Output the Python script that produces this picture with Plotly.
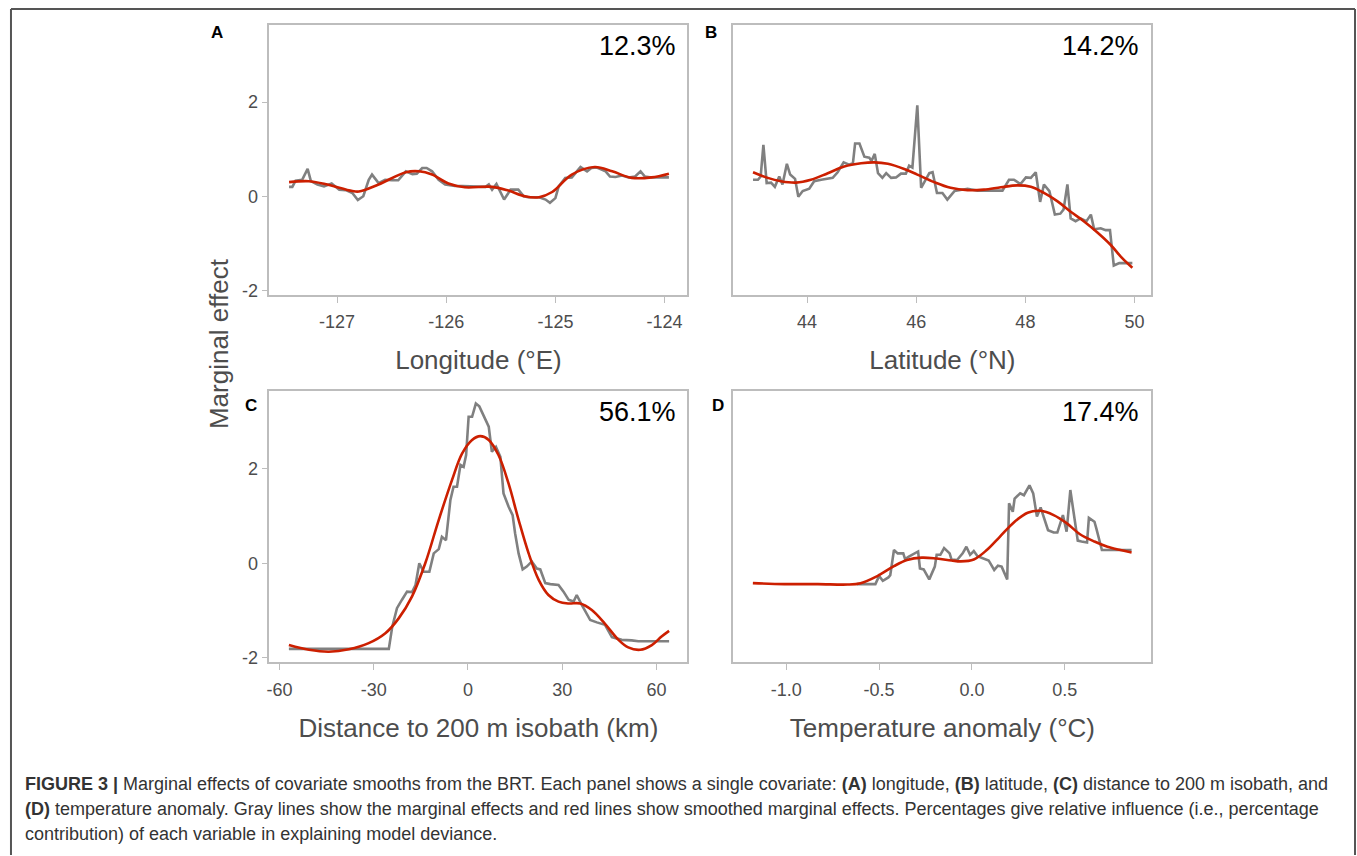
import plotly.graph_objects as go

W, H = 1357, 856

# ---------------- data ----------------
# Panel A: longitude
lon_gray_x = [-127.44, -127.41, -127.38, -127.32, -127.27, -127.24, -127.18, -127.12, -127.05, -126.98,
              -126.92, -126.86, -126.81, -126.76, -126.71, -126.68, -126.62, -126.56, -126.50, -126.44,
              -126.37, -126.31, -126.27, -126.22, -126.18, -126.13, -126.07, -126.01, -125.92, -125.83,
              -125.73, -125.64, -125.61, -125.58, -125.54, -125.47, -125.41, -125.34, -125.29, -125.25,
              -125.15, -125.09, -125.05, -125.00, -124.97, -124.91, -124.85, -124.77, -124.71, -124.67,
              -124.62, -124.54, -124.50, -124.45, -124.39, -124.33, -124.27, -124.22, -124.18, -124.12,
              -124.06, -123.96]
lon_gray_y = [0.20, 0.20, 0.33, 0.35, 0.58, 0.32, 0.25, 0.21, 0.27, 0.14,
              0.13, 0.07, -0.08, 0.00, 0.35, 0.46, 0.28, 0.35, 0.34, 0.34,
              0.53, 0.47, 0.48, 0.60, 0.60, 0.53, 0.35, 0.25, 0.22, 0.21,
              0.20, 0.20, 0.25, 0.14, 0.26, -0.07, 0.14, 0.14, 0.00, -0.02,
              -0.02, -0.07, -0.14, -0.04, 0.21, 0.39, 0.40, 0.62, 0.53, 0.60,
              0.61, 0.53, 0.42, 0.41, 0.44, 0.40, 0.42, 0.53, 0.42, 0.40,
              0.40, 0.40]
lon_red_x = [-127.44, -127.26, -127.11, -126.86, -126.80, -126.62, -126.37, -126.25, -126.13, -125.98,
             -125.83, -125.58, -125.43, -125.28, -125.15, -125.03, -124.85, -124.64, -124.48, -124.30,
             -124.12, -123.96]
lon_red_y = [0.30, 0.32, 0.26, 0.11, 0.10, 0.25, 0.51, 0.53, 0.46, 0.27,
             0.19, 0.20, 0.12, 0.00, -0.02, 0.09, 0.46, 0.62, 0.53, 0.39,
             0.40, 0.48]

# Panel B: latitude
lat_gray_x = [43.01, 43.10, 43.15, 43.20, 43.26, 43.34, 43.41, 43.49, 43.55, 43.63,
              43.69, 43.78, 43.84, 43.92, 44.04, 44.13, 44.26, 44.47, 44.56, 44.67,
              44.77, 44.84, 44.88, 44.96, 45.05, 45.14, 45.18, 45.24, 45.30, 45.38,
              45.45, 45.54, 45.63, 45.72, 45.81, 45.87, 45.93, 46.02, 46.09, 46.16,
              46.24, 46.30, 46.38, 46.48, 46.57, 46.70, 46.82, 46.94, 47.12, 47.37,
              47.58, 47.70, 47.79, 47.91, 48.01, 48.10, 48.19, 48.27, 48.34, 48.44,
              48.54, 48.64, 48.70, 48.77, 48.83, 48.92, 49.01, 49.12, 49.20, 49.26,
              49.38, 49.47, 49.55, 49.62, 49.72, 49.84, 49.96]
lat_gray_y = [0.35, 0.35, 0.42, 1.09, 0.28, 0.29, 0.20, 0.42, 0.25, 0.69,
              0.46, 0.37, -0.01, 0.11, 0.16, 0.32, 0.35, 0.39, 0.51, 0.72,
              0.67, 0.70, 1.12, 1.12, 0.84, 0.82, 0.75, 0.90, 0.49, 0.39,
              0.49, 0.39, 0.40, 0.48, 0.48, 0.65, 0.61, 1.93, 0.18, 0.32,
              0.49, 0.51, 0.07, 0.07, -0.07, 0.11, 0.14, 0.16, 0.12, 0.12,
              0.12, 0.35, 0.35, 0.26, 0.40, 0.39, 0.51, -0.12, 0.25, 0.11,
              -0.39, -0.37, -0.28, 0.25, -0.47, -0.53, -0.47, -0.53, -0.39, -0.70,
              -0.68, -0.72, -0.72, -1.47, -1.42, -1.42, -1.42]
lat_red_x = [43.01, 43.28, 43.52, 43.80, 44.07, 44.38, 44.68, 44.99, 45.23, 45.48,
             45.78, 46.02, 46.33, 46.63, 46.94, 47.24, 47.55, 47.85, 48.10, 48.34,
             48.59, 48.83, 49.07, 49.32, 49.56, 49.77, 49.96]
lat_red_y = [0.51, 0.39, 0.32, 0.29, 0.35, 0.49, 0.63, 0.70, 0.72, 0.69,
             0.58, 0.46, 0.30, 0.18, 0.13, 0.14, 0.19, 0.23, 0.20, 0.07,
             -0.11, -0.33, -0.53, -0.77, -1.03, -1.31, -1.52]

# Panel C: distance to 200 m isobath
dist_gray_x = [-57.0, -25.2, -24.1, -22.6, -21.0, -19.4, -17.8, -16.7, -15.5, -14.1,
               -12.3, -10.9, -9.3, -8.3, -7.0, -5.6, -4.6, -3.5, -2.4, -1.4,
               -0.6, 0.2, 1.3, 2.5, 3.6, 5.0, 6.6, 7.6, 8.9, 10.3,
               11.3, 12.9, 14.2, 15.0, 16.1, 17.4, 18.7, 20.3, 21.9, 23.0,
               24.6, 26.2, 27.7, 28.8, 30.4, 32.0, 33.6, 34.6, 36.2, 38.9,
               41.0, 43.6, 45.8, 48.9, 52.1, 54.2, 64.0]
dist_gray_y = [-1.81, -1.81, -1.34, -0.95, -0.77, -0.60, -0.61, -0.46, 0.00, -0.18,
               -0.18, 0.21, 0.30, 0.56, 0.49, 1.34, 1.62, 1.62, 2.08, 2.04,
               2.29, 3.10, 3.10, 3.38, 3.32, 3.13, 2.89, 2.36, 2.46, 2.25,
               1.48, 1.20, 1.02, 0.63, 0.21, -0.13, -0.07, 0.04, -0.11, -0.13,
               -0.42, -0.44, -0.46, -0.46, -0.60, -0.77, -0.81, -0.67, -0.88, -1.20,
               -1.25, -1.30, -1.56, -1.62, -1.63, -1.65, -1.65]
dist_red_x = [-57.0, -50.6, -44.3, -37.9, -31.6, -26.3, -22.0, -17.8, -13.6, -9.3,
              -5.1, -1.9, 1.3, 3.9, 6.6, 9.7, 12.9, 16.1, 19.3, 22.5,
              25.6, 28.8, 32.0, 35.7, 39.4, 43.6, 47.9, 51.0, 54.8, 58.5,
              61.6, 64.0]
dist_red_y = [-1.73, -1.83, -1.87, -1.82, -1.69, -1.48, -1.16, -0.70, 0.00, 0.92,
              1.76, 2.32, 2.61, 2.69, 2.61, 2.29, 1.69, 0.92, 0.21, -0.35,
              -0.67, -0.81, -0.85, -0.85, -0.99, -1.28, -1.62, -1.78, -1.83, -1.73,
              -1.55, -1.43]

# Panel D: temperature anomaly
temp_gray_x = [-0.62, -0.52, -0.50, -0.48, -0.45, -0.44, -0.42, -0.40, -0.37, -0.36,
               -0.34, -0.32, -0.29, -0.28, -0.26, -0.23, -0.20, -0.19, -0.17, -0.15,
               -0.12, -0.11, -0.08, -0.05, -0.03, -0.01, 0.01, 0.03, 0.06, 0.09,
               0.12, 0.14, 0.16, 0.19, 0.20, 0.22, 0.23, 0.26, 0.28, 0.31,
               0.33, 0.35, 0.37, 0.39, 0.41, 0.44, 0.46, 0.49, 0.51, 0.53,
               0.55, 0.57, 0.59, 0.62, 0.63, 0.66, 0.67, 0.70, 0.76, 0.86]
temp_gray_y = [-0.44, -0.44, -0.27, -0.37, -0.30, -0.25, 0.28, 0.21, 0.21, 0.09,
               0.14, 0.18, 0.25, -0.11, -0.13, -0.34, -0.07, 0.18, 0.18, 0.32,
               0.21, 0.08, 0.07, 0.21, 0.35, 0.18, 0.26, 0.15, 0.11, 0.06,
               -0.14, -0.05, -0.07, -0.34, 1.27, 1.09, 1.37, 1.48, 1.44, 1.65,
               1.48, 0.99, 1.18, 0.92, 0.70, 0.65, 0.65, 1.02, 0.67, 1.55,
               1.06, 0.48, 0.46, 0.44, 0.96, 0.88, 0.74, 0.28, 0.28, 0.28]
temp_red_x = [-1.18, -1.01, -0.83, -0.67, -0.60, -0.51, -0.42, -0.35, -0.27, -0.19,
              -0.11, -0.06, 0.01, 0.08, 0.15, 0.23, 0.30, 0.37, 0.44, 0.51,
              0.58, 0.66, 0.73, 0.80, 0.86]
temp_red_y = [-0.42, -0.44, -0.44, -0.45, -0.42, -0.27, -0.06, 0.07, 0.12, 0.10,
              0.06, 0.04, 0.08, 0.28, 0.56, 0.88, 1.07, 1.11, 1.02, 0.85,
              0.62, 0.46, 0.35, 0.28, 0.23]

y_ticks = [-2, 0, 2]
y_ticktext = ["-2", "0", "2"]
x_ticks = {
    "A": [-127, -126, -125, -124],
    "B": [44, 46, 48, 50],
    "C": [-60, -30, 0, 30, 60],
    "D": [-1.0, -0.5, 0.0, 0.5],
}
x_ticktext = {
    "A": ["-127", "-126", "-125", "-124"],
    "B": ["44", "46", "48", "50"],
    "C": ["-60", "-30", "0", "30", "60"],
    "D": ["-1.0", "-0.5", "0.0", "0.5"],
}
x_titles = ["Longitude (°E)", "Latitude (°N)", "Distance to 200 m isobath (km)", "Temperature anomaly (°C)"]
percentages = ["12.3%", "14.2%", "56.1%", "17.4%"]
panel_letters = ["A", "B", "C", "D"]
caption_lines = [
    "<b>FIGURE 3 |</b> Marginal effects of covariate smooths from the BRT. Each panel shows a single covariate: <b>(A)</b> longitude, <b>(B)</b> latitude, <b>(C)</b> distance to 200 m isobath, and",
    "<b>(D)</b> temperature anomaly. Gray lines show the marginal effects and red lines show smoothed marginal effects. Percentages give relative influence (i.e., percentage",
    "contribution) of each variable in explaining model deviance.",
]

# ---------------- layout helpers ----------------
def px_x(p):
    return p / W

def px_y(p):
    return 1 - p / H

panels = {
    "A": (267, 686, 25, 297, [-127.62, -123.79]),
    "B": (732, 1151, 25, 297, [42.65, 50.31]),
    "C": (267, 686, 394, 667, [-63.2, 69.85]),
    "D": (732, 1151, 394, 667, [-1.285, 0.967]),
}
yr = [-2.095, 3.64]

GRAY = "#808080"
RED = "#cc1f00"
FRAME = "#bdbdbd"
TXT = "#4d4d4d"
FONT = "Liberation Sans, Arial, sans-serif"

data_sets = [
    (lon_gray_x, lon_gray_y, lon_red_x, lon_red_y),
    (lat_gray_x, lat_gray_y, lat_red_x, lat_red_y),
    (dist_gray_x, dist_gray_y, dist_red_x, dist_red_y),
    (temp_gray_x, temp_gray_y, temp_red_x, temp_red_y),
]

fig = go.Figure()
layout = dict(
    width=W, height=H,
    margin=dict(l=0, r=0, t=0, b=0),
    paper_bgcolor="white", plot_bgcolor="white",
    showlegend=False,
    font=dict(family=FONT, color=TXT),
)
annotations = []

for i, key in enumerate(["A", "B", "C", "D"]):
    x0, x1, y0, y1, xr = panels[key]
    sfx = "" if i == 0 else str(i + 1)
    gx, gy, rx, ry = data_sets[i]
    fig.add_trace(go.Scatter(x=gx, y=gy, mode="lines", line=dict(color=GRAY, width=2.6),
                             xaxis="x" + sfx, yaxis="y" + sfx, hoverinfo="skip"))
    fig.add_trace(go.Scatter(x=rx, y=ry, mode="lines", line=dict(color=RED, width=2.6, shape="spline", smoothing=1.0),
                             xaxis="x" + sfx, yaxis="y" + sfx, hoverinfo="skip"))
    show_y = key in ("A", "C")
    xa = dict(
        domain=[px_x(x0), px_x(x1)], range=xr, anchor="y" + sfx,
        showline=True, linecolor=FRAME, linewidth=1.5, mirror=True,
        showgrid=False, zeroline=False,
        ticks="outside", ticklen=6, tickcolor=FRAME, tickwidth=1.2,
        tickvals=x_ticks[key], ticktext=x_ticktext[key],
        tickfont=dict(size=18, color=TXT, family=FONT),
        ticklabelstandoff=4,
        title=dict(text=x_titles[i], font=dict(size=26, color=TXT, family=FONT), standoff=20),
    )
    ya = dict(
        domain=[px_y(y1), px_y(y0)], range=yr, anchor="x" + sfx,
        showline=True, linecolor=FRAME, linewidth=1.5, mirror=True,
        showgrid=False, zeroline=False,
        ticks="outside" if show_y else "", ticklen=6, tickcolor=FRAME, tickwidth=1.2,
        tickvals=y_ticks, ticktext=y_ticktext, showticklabels=show_y,
        tickfont=dict(size=18, color=TXT, family=FONT),
    )
    layout["xaxis" + sfx] = xa
    layout["yaxis" + sfx] = ya

    # percentage label
    annotations.append(dict(text=percentages[i], x=px_x(x1 - 10), y=px_y(y0 + 21),
                            xref="paper", yref="paper", xanchor="right", yanchor="middle",
                            showarrow=False, font=dict(size=27, color="black", family=FONT)))

letter_pos = {"A": (214, 33), "B": (710, 33), "C": (249, 408), "D": (717, 408)}
for k in panel_letters:
    lx, ly = letter_pos[k]
    annotations.append(dict(text="<b>" + k + "</b>", x=px_x(lx), y=px_y(ly), xref="paper", yref="paper",
                            xanchor="center", yanchor="middle", showarrow=False,
                            font=dict(size=17, color="black", family=FONT)))

# shared y title
annotations.append(dict(text="Marginal effect", x=px_x(216), y=px_y(346), xref="paper", yref="paper",
                        xanchor="center", yanchor="middle", textangle=-90, showarrow=False,
                        font=dict(size=26, color=TXT, family=FONT)))

# caption
cap_y = [790, 815, 840]
for line, cy in zip(caption_lines, cap_y):
    annotations.append(dict(text=line, x=px_x(20), y=px_y(cy), xref="paper", yref="paper",
                            xanchor="left", yanchor="middle", showarrow=False,
                            font=dict(size=18, color="#333333", family=FONT)))

layout["annotations"] = annotations

# outer border of the figure frame
border = "#555555"
layout["shapes"] = [
    dict(type="line", xref="paper", yref="paper", x0=px_x(8), x1=px_x(1355), y0=px_y(9), y1=px_y(9),
         line=dict(color=border, width=2)),
    dict(type="line", xref="paper", yref="paper", x0=px_x(8), x1=px_x(8), y0=px_y(9), y1=px_y(H + 5),
         line=dict(color=border, width=2)),
    dict(type="line", xref="paper", yref="paper", x0=px_x(1355), x1=px_x(1355), y0=px_y(9), y1=px_y(H + 5),
         line=dict(color=border, width=2)),
]

fig.update_layout(**layout)
fig.write_html("out.html")
